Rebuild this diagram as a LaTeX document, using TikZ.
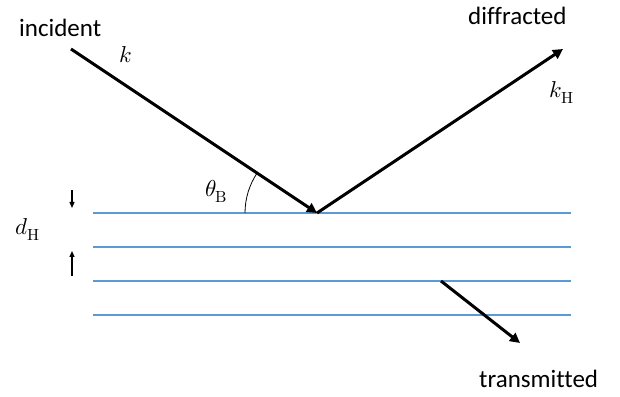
\documentclass[tikz,border=0pt]{standalone}
\usepackage{fontspec}
\usepackage{unicode-math}
\setmainfont{Carlito}[Ligatures=NoCommon]
\setmathfont{Latin Modern Math}
\usetikzlibrary{arrows.meta}
\definecolor{planeblue}{RGB}{91,155,213}

\begin{document}
\begin{tikzpicture}[x=1pt,y=1pt,
  beam/.style={line width=3pt,-{Triangle[length=10pt,width=10pt]}},
  plane/.style={planeblue,line width=2pt},
  gap/.style={line width=1.3pt,-{Triangle[length=6pt,width=5pt]}},
  lbl/.style={anchor=base west,inner sep=0pt,font=\fontsize{25}{30}\selectfont},
  sym/.style={anchor=base west,inner sep=0pt,font=\fontsize{23}{27}\selectfont}]
\useasboundingbox (0,0) rectangle (620,396);
% lattice planes
\foreach \y/\n in {183/1,149/2,115/3,81/4} {
   \draw[plane] (93,\y) coordinate (p\n) -- (571,\y);
}
\coordinate (src) at (71,347);
\coordinate (R) at (317,183);
\coordinate (dst) at (563,347);
\coordinate (tin) at (441,115);
\coordinate (tout) at (520,53);
\draw[beam] (src) -- (R);
\draw[beam] (R) -- (dst);
\draw[beam] (tin) -- (tout);
% Bragg angle
\draw[line width=0.8pt] (R) ++(-72,0) arc[start angle=180,end angle=146.3,radius=72];
% plane spacing
\coordinate (gt) at (72,206);
\coordinate (gtt) at (72,188);
\coordinate (gb) at (72,120);
\coordinate (gbb) at (72,145);
\draw[gap] (gt) -- (gtt);
\draw[gap] (gb) -- (gbb);
% labels
\node[lbl] (incident) at (19,359) {incident};
\node[lbl] (diffracted) at (468,371) {diffracted};
\node[lbl] (transmitted) at (479,9) {transmitted};
\node[sym] (k) at (119,333) {$k$};
\node[sym] (kH) at (549,298) {$k_{\symup{H}}$};
\node[sym] (thetaB) at (205,199) {$\theta_{\symup{B}}$};
\node[sym] (dH) at (15,161) {$d_{\symup{H}}$};
\end{tikzpicture}
\end{document}
